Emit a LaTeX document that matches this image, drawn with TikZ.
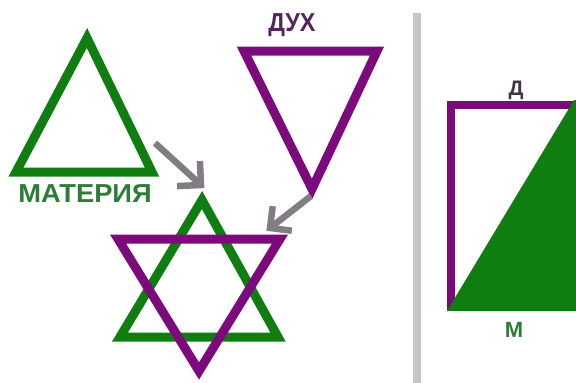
\documentclass[tikz,border=0pt]{standalone}
\usepackage{fontspec}
\setmainfont{Liberation Sans}
\usetikzlibrary{calc}
\definecolor{mgreen}{RGB}{16,125,16}
\definecolor{mpurple}{RGB}{125,10,125}
\definecolor{tgreen}{RGB}{45,125,55}
\definecolor{tpurple}{RGB}{85,35,95}
\definecolor{tdark}{RGB}{65,55,65}
\definecolor{agray}{RGB}{130,125,130}
\definecolor{divgray}{RGB}{198,198,198}
\begin{document}
\begin{tikzpicture}[x=1pt,y=-1pt,
  tri/.style={line width=9pt, line join=miter},
  gtri/.style={tri, draw=mgreen},
  ptri/.style={tri, draw=mpurple},
  arr/.style={draw=agray, line width=6.5pt, line join=miter},
  lbl/.style={inner sep=0pt, anchor=base, font=\bfseries}]
\useasboundingbox (0,0) rectangle (576,383);
\clip (0,0) rectangle (576,383);
\fill[white] (0,0) rectangle (576,383);

% left green triangle (matter)
\coordinate (mA) at (87,38);
\coordinate (mL) at (16,172);
\coordinate (mR) at (152,172);
\draw[gtri] (mA) -- (mL) -- (mR) -- cycle;
\node[lbl, text=tgreen, font=\bfseries\fontsize{26}{27}\selectfont] (mat) at (85,202) {\scalebox{1.05}[1]{МАТЕРИЯ}};

% purple triangle (spirit)
\coordinate (sL) at (244,51);
\coordinate (sR) at (377,51);
\coordinate (sA) at (312,189);
\draw[ptri] (sL) -- (sR) -- (sA) -- cycle;
\node[lbl, text=tpurple, font=\bfseries\fontsize{26}{27}\selectfont] (dukh) at (292,31) {\scalebox{0.9}[1]{ДУХ}};

% star
\coordinate (gA) at (202,200);
\coordinate (gL) at (120,337);
\coordinate (gR) at (278,337);
\coordinate (pL) at (118,239);
\coordinate (pR) at (280,239);
\coordinate (pA) at (199,371);
\draw[gtri] (gA) -- (gL) -- (gR) -- cycle;
\draw[ptri] (pL) -- (pR) -- (pA) -- cycle;

% arrows
\coordinate (a1s) at (155,143);
\coordinate (a1t) at (201,185);
\draw[arr] (a1s) -- (a1t);
\draw[arr] ($(a1t)!24pt!45:(a1s)$) -- (a1t) -- ($(a1t)!24pt!-45:(a1s)$);
\coordinate (a2s) at (311,196);
\coordinate (a2t) at (270,228);
\draw[arr] (a2s) -- (a2t);
\draw[arr] ($(a2t)!22pt!45:(a2s)$) -- (a2t) -- ($(a2t)!22pt!-45:(a2s)$);

% divider
\fill[divgray] (413,13) rectangle (421,383);

% right panel
\coordinate (rB) at (451,310);
\coordinate (rT) at (451,105);
\coordinate (rR) at (585,105);
\draw[mpurple, line width=8pt, line join=miter] (rB) -- (rT) -- (rR);
\fill[mgreen] (447,311) -- (574,100) -- (585,100) -- (585,311) -- cycle;
\node[lbl, text=tdark, font=\bfseries\fontsize{21}{22}\selectfont] (dd) at (516,95) {Д};
\node[lbl, text=tgreen, font=\bfseries\fontsize{22}{23}\selectfont] (mm) at (514,337) {М};
\end{tikzpicture}
\end{document}
